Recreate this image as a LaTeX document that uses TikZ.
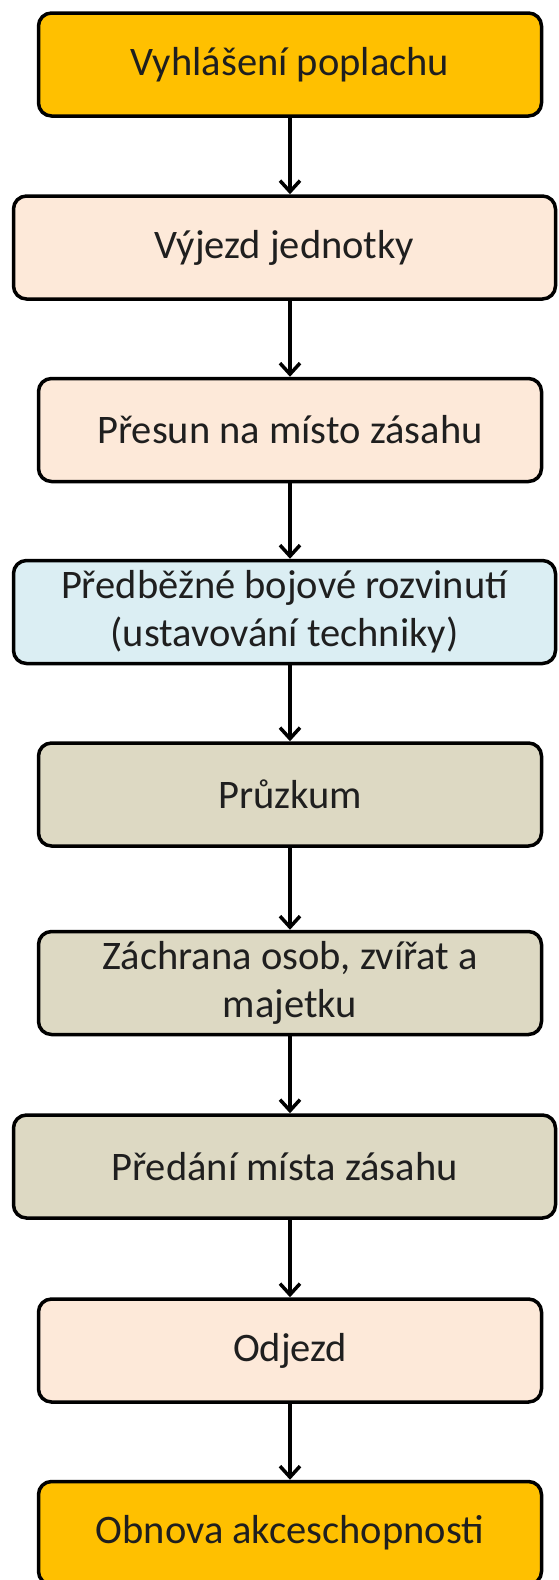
\documentclass[tikz,border=0pt]{standalone}
\usepackage{fontspec}
\setmainfont{Carlito}
\usetikzlibrary{arrows.meta}
\definecolor{corange}{HTML}{FFC000}
\definecolor{cpeach}{HTML}{FDE9D9}
\definecolor{cblue}{HTML}{DBEEF3}
\definecolor{ctan}{HTML}{DDD9C3}
\tikzset{
  x=1pt,y=-1pt,
  box/.style={draw=black,line width=3.5pt,rounded corners=13pt,inner sep=0pt,
    align=center,font=\fontsize{40.5}{48}\selectfont,text=black!88},
  nbox/.style={box,minimum width=503pt,minimum height=103pt},
  wbox/.style={box,minimum width=542pt,minimum height=103pt},
  arr/.style={line width=3.5pt,-{Straight Barb[length=11pt,width=20pt,line width=3.5pt]}}
}
\begin{document}
\begin{tikzpicture}
\useasboundingbox (0,0) rectangle (558,1580);
\clip (0,0) rectangle (558,1580);
\node[nbox,fill=corange] (n1) at (290,64.5) {Vyhlášení poplachu};
\node[wbox,fill=cpeach] (n2) at (284.5,247.5) {Výjezd jednotky};
\node[nbox,fill=cpeach] (n3) at (290,430) {Přesun na místo zásahu};
\node[wbox,fill=cblue] (n4) at (284.5,612) {Předběžné bojové rozvinutí\\(ustavování techniky)};
\node[nbox,fill=ctan] (n5) at (290,794.5) {Průzkum};
\node[nbox,fill=ctan] (n6) at (290,983) {Záchrana osob, zvířat a\\majetku};
\node[wbox,fill=ctan] (n7) at (284.5,1166.5) {Předání místa zásahu};
\node[nbox,fill=cpeach] (n8) at (290,1350.5) {Odjezd};
\node[nbox,fill=corange] (n9) at (290,1533) {Obnova akceschopnosti};
\foreach \a/\b in {n1/n2,n2/n3,n3/n4,n4/n5,n5/n6,n6/n7,n7/n8,n8/n9}{
  \draw[arr] (\a.south -| 290,0) -- (\b.north -| 290,0);
}
\end{tikzpicture}
\end{document}
